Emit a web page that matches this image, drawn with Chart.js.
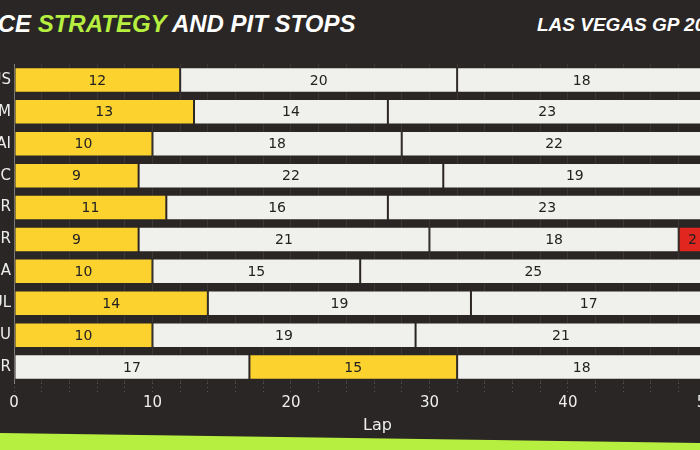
<!DOCTYPE html>
<html>
<head>
<meta charset="utf-8">
<script src="https://cdn.jsdelivr.net/npm/chart.js@4.4.1/dist/chart.umd.min.js"></script>
<style>
  html, body { margin: 0; padding: 0; }
  body { width: 700px; height: 450px; overflow: hidden; position: relative; background: #2a2625; }
  .title { position: absolute; left: -37px; top: 12px; font: italic bold 24px "Liberation Sans", Arial, sans-serif; line-height: 24px; color: #fff; white-space: nowrap; }
  .title span { color: #b6ef3f; }
  .race { position: absolute; left: 537px; top: 15px; font: italic bold 19px "Liberation Sans", Arial, sans-serif; line-height: 19px; color: #fff; white-space: nowrap; }
  .band { position: absolute; left: 0; top: 0; width: 700px; height: 450px; background: #b6ef3f; clip-path: polygon(0 433px, 700px 443px, 700px 450px, 0 450px); }
  #wrap { position: absolute; left: -40px; top: 0; width: 810px; height: 450px; }
</style>
</head>
<body>
<div class="title">RACE <span>STRATEGY</span> AND PIT STOPS</div>
<div class="race">LAS VEGAS GP 2024</div>
<div id="wrap"><canvas id="strategy"></canvas></div>
<div class="band"></div>
<script>
const drivers = ['RUS', 'HAM', 'SAI', 'LEC', 'VER', 'NOR', 'PIA', 'HUL', 'TSU', 'PER'];

// laps per stint, one array per stint
const stint1Laps = [12, 13, 10, 9, 11, 9, 10, 14, 10, 17];
const stint2Laps = [20, 14, 18, 22, 16, 21, 15, 19, 19, 15];
const stint3Laps = [18, 23, 22, 19, 23, 18, 25, 17, 21, 18];
const stint4Laps = [0, 0, 0, 0, 0, 2, 0, 0, 0, 0];

// compound per stint: S soft, M medium, H hard
const stint1Tyre = ['M', 'M', 'M', 'M', 'M', 'M', 'M', 'M', 'M', 'H'];
const stint2Tyre = ['H', 'H', 'H', 'H', 'H', 'H', 'H', 'H', 'H', 'M'];
const stint3Tyre = ['H', 'H', 'H', 'H', 'H', 'H', 'H', 'H', 'H', 'H'];
const stint4Tyre = ['', '', '', '', '', 'S', '', '', '', ''];

const xMax = 52.5;

const tyreColors = { S: '#e0261e', M: '#fcd22f', H: '#f0f0ec' };

const stints = [
    [stint1Laps, stint1Tyre],
    [stint2Laps, stint2Tyre],
    [stint3Laps, stint3Tyre],
    [stint4Laps, stint4Tyre]
];

const datasets = stints.map(function(s, i) {
    return {
        label: 'Stint ' + (i + 1),
        data: s[0].map(v => v > 0 ? v : null),
        backgroundColor: s[1].map(t => tyreColors[t] || 'transparent'),
        borderColor: 'rgba(45,40,35,0.7)',
        borderWidth: 1,
        borderSkipped: false,
        barPercentage: 0.8,
        categoryPercentage: 1.0
    };
});

// writes the lap count in the middle of each stint
const stintLabels = {
    id: 'stintLabels',
    afterDatasetsDraw(chart) {
        const ctx = chart.ctx;
        ctx.save();
        ctx.font = '14px "DejaVu Sans"';
        ctx.fillStyle = '#222';
        ctx.textAlign = 'center';
        ctx.textBaseline = 'middle';
        chart.data.datasets.forEach(function(ds, i) {
            chart.getDatasetMeta(i).data.forEach(function(bar, j) {
                const v = ds.data[j];
                if (!v) return;
                const p = bar.getCenterPoint();
                ctx.fillText(v, p.x, p.y + 1);
            });
        });
        ctx.restore();
    }
};

window.onload = function() {
    const ctx = document.getElementById('strategy').getContext('2d');
    new Chart(ctx, {
        type: 'bar',
        data: { labels: drivers, datasets: datasets },
        options: {
            indexAxis: 'y',
            responsive: true,
            maintainAspectRatio: false,
            animation: false,
            layout: { padding: { top: 64, right: 29, bottom: 12, left: 0 } },
            plugins: { legend: { display: false }, tooltip: { enabled: false } },
            scales: {
                x: {
                    stacked: true,
                    min: 0,
                    max: xMax,
                    afterFit: function(scale) { scale.height = 55; },
                    ticks: {
                        stepSize: 2,
                        autoSkip: false,
                        includeBounds: false,
                        maxRotation: 0,
                        color: '#eeeeee',
                        font: { family: 'DejaVu Sans', size: 15, lineHeight: 1 },
                        padding: 3,
                        callback: v => v % 10 === 0 ? v : ''
                    },
                    grid: {
                        color: 'rgba(255,255,255,0.08)',
                        tickColor: 'rgba(255,255,255,0.22)',
                        tickBorderDash: [1, 3],
                        tickLength: 10,
                        lineWidth: 1
                    },
                    border: { display: false },
                    title: {
                        display: true,
                        text: 'Lap',
                        color: '#eeeeee',
                        font: { family: 'DejaVu Sans', size: 16 },
                        padding: { top: 0, bottom: 3 }
                    }
                },
                y: {
                    stacked: true,
                    afterFit: function(scale) { scale.width = 54; },
                    ticks: {
                        color: '#eeeeee',
                        font: { family: 'DejaVu Sans', size: 15 },
                        padding: 0
                    },
                    grid: { display: false, drawTicks: true, tickLength: 3 },
                    border: { display: true, color: 'rgba(255,255,255,0.35)', dash: [2, 3] }
                }
            }
        },
        plugins: [stintLabels]
    });
};
</script>
</body>
</html>
